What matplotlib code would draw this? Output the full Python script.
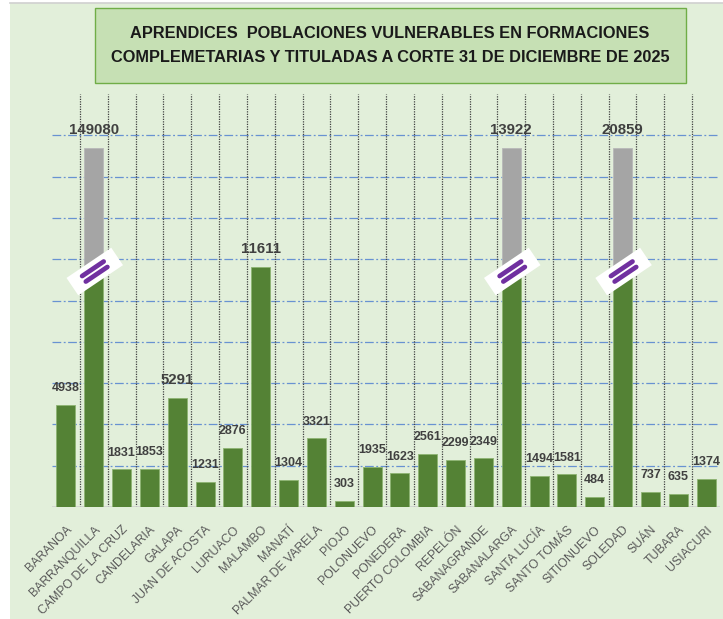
import matplotlib
matplotlib.use("Agg")
import matplotlib.pyplot as plt
import matplotlib.patches as mpatches
import matplotlib.transforms as mtransforms
import numpy as np

# datos
municipios = ["BARANOA", "BARRANQUILLA", "CAMPO DE LA CRUZ", "CANDELARIA", "GALAPA",
              "JUAN DE ACOSTA", "LURUACO", "MALAMBO", "MANATÍ", "PALMAR DE VARELA",
              "PIOJO", "POLONUEVO", "PONEDERA", "PUERTO COLOMBIA", "REPELÓN",
              "SABANAGRANDE", "SABANALARGA", "SANTA LUCÍA", "SANTO TOMÁS", "SITIONUEVO",
              "SOLEDAD", "SUÁN", "TUBARA", "USIACURI"]
aprendices = [4938, 149080, 1831, 1853, 5291, 1231, 2876, 11611, 1304, 3321,
              303, 1935, 1623, 2561, 2299, 2349, 13922, 1494, 1581, 484,
              20859, 737, 635, 1374]
cortados = ["BARRANQUILLA", "SABANALARGA", "SOLEDAD"]

# estilo
verde = "#548235"
gris = "#A5A5A5"
fondo = "#E2EFDA"
tope_corte = 17400
inicio_gris = 11500

W, H = 723, 619
fig = plt.figure(figsize=(W / 100, H / 100), dpi=100, facecolor="white")
fig.patches.append(mpatches.Rectangle((10 / W, 0), 1, 1 - 3 / H, transform=fig.transFigure,
                                      facecolor=fondo, edgecolor="none", zorder=-10))
fig.lines.append(plt.Line2D([10 / W, 1], [1 - 3 / H, 1 - 3 / H], transform=fig.transFigure,
                            color="#D0D0D0", lw=1.2, zorder=-9))

ax = fig.add_axes([52 / W, (H - 507) / H, (720 - 52) / W, (507 - 94) / H])
ax.set_facecolor("none")
x = np.arange(len(municipios))
ax.set_xlim(-0.5, len(municipios) - 0.5)
ax.set_ylim(0, 20000)

# rejilla
for yv in range(2000, 20000, 2000):
    ax.axhline(yv, color="#4A7BD0", lw=0.9, ls=(0, (7, 2, 1.5, 2)), alpha=0.8, zorder=0)
for xv in np.arange(0.5, len(municipios) - 1, 1):
    ax.axvline(xv, color="#404040", lw=0.9, ls=(0, (1, 1)), zorder=0)
ax.axhline(0, color="#D0D0D0", lw=1.2, zorder=1)

alturas = [tope_corte if m in cortados else v for m, v in zip(municipios, aprendices)]
verdes = [inicio_gris if m in cortados else v for m, v in zip(municipios, aprendices)]
ax.bar(x, verdes, width=0.68, color=verde, edgecolor="#8DB472", lw=0.6, zorder=2)
for i, m in enumerate(municipios):
    if m in cortados:
        ax.bar(x[i], tope_corte - inicio_gris, bottom=inicio_gris, width=0.68,
               color=gris, edgecolor="#B8B8B8", lw=0.6, zorder=2)

for i, (h, v) in enumerate(zip(alturas, aprendices)):
    grande = v > 5000
    ax.annotate(str(v), (x[i], h), xytext=(0, 13 if grande else 12), textcoords="offset points",
                ha="center", va="center", fontsize=10.8 if grande else 9.0,
                fontweight="bold", color="#404040", family="Liberation Sans", zorder=5)

for s in ax.spines.values():
    s.set_visible(False)
ax.set_yticks([])
ax.set_xticks(x)
ax.set_xticklabels(municipios, rotation=45, ha="right", rotation_mode="anchor",
                   fontsize=8.8, color="#595959", family="Liberation Sans")
ax.tick_params(axis="x", length=0, pad=12)

# marcas de corte
fig.canvas.draw()
for i, m in enumerate(municipios):
    if m not in cortados:
        continue
    cx, cy = ax.transData.transform((x[i], inicio_gris))
    t = mtransforms.Affine2D().rotate_deg(34).translate(cx + 1, cy - 2)
    fig.patches.append(mpatches.Rectangle((-27, -10.5), 54, 21, transform=t,
                                          facecolor="white", edgecolor="none", zorder=6))
    for d in (3.3, -3.3):
        fig.lines.append(plt.Line2D([-13, 13], [d, d], transform=t, color="#7030A0",
                                    lw=3.4, solid_capstyle="round", zorder=7))

# titulo
fig.patches.append(mpatches.Rectangle((95 / W, 1 - 83 / H), (686 - 95) / W, 75 / H,
                                      transform=fig.transFigure, facecolor="#C6E0B4",
                                      edgecolor="#70AD47", lw=1, zorder=3))
fig.text(390 / W, 1 - 33 / H, "APRENDICES  POBLACIONES VULNERABLES EN FORMACIONES",
         ha="center", va="center", fontsize=11.8, fontweight="bold", color="#1A1A1A",
         family="Liberation Sans", zorder=4)
fig.text(390 / W, 1 - 58 / H, "COMPLEMETARIAS Y TITULADAS A CORTE 31 DE DICIEMBRE DE 2025",
         ha="center", va="center", fontsize=11.8, fontweight="bold", color="#1A1A1A",
         family="Liberation Sans", zorder=4)

fig.savefig("out.png", dpi=100, facecolor="white")
